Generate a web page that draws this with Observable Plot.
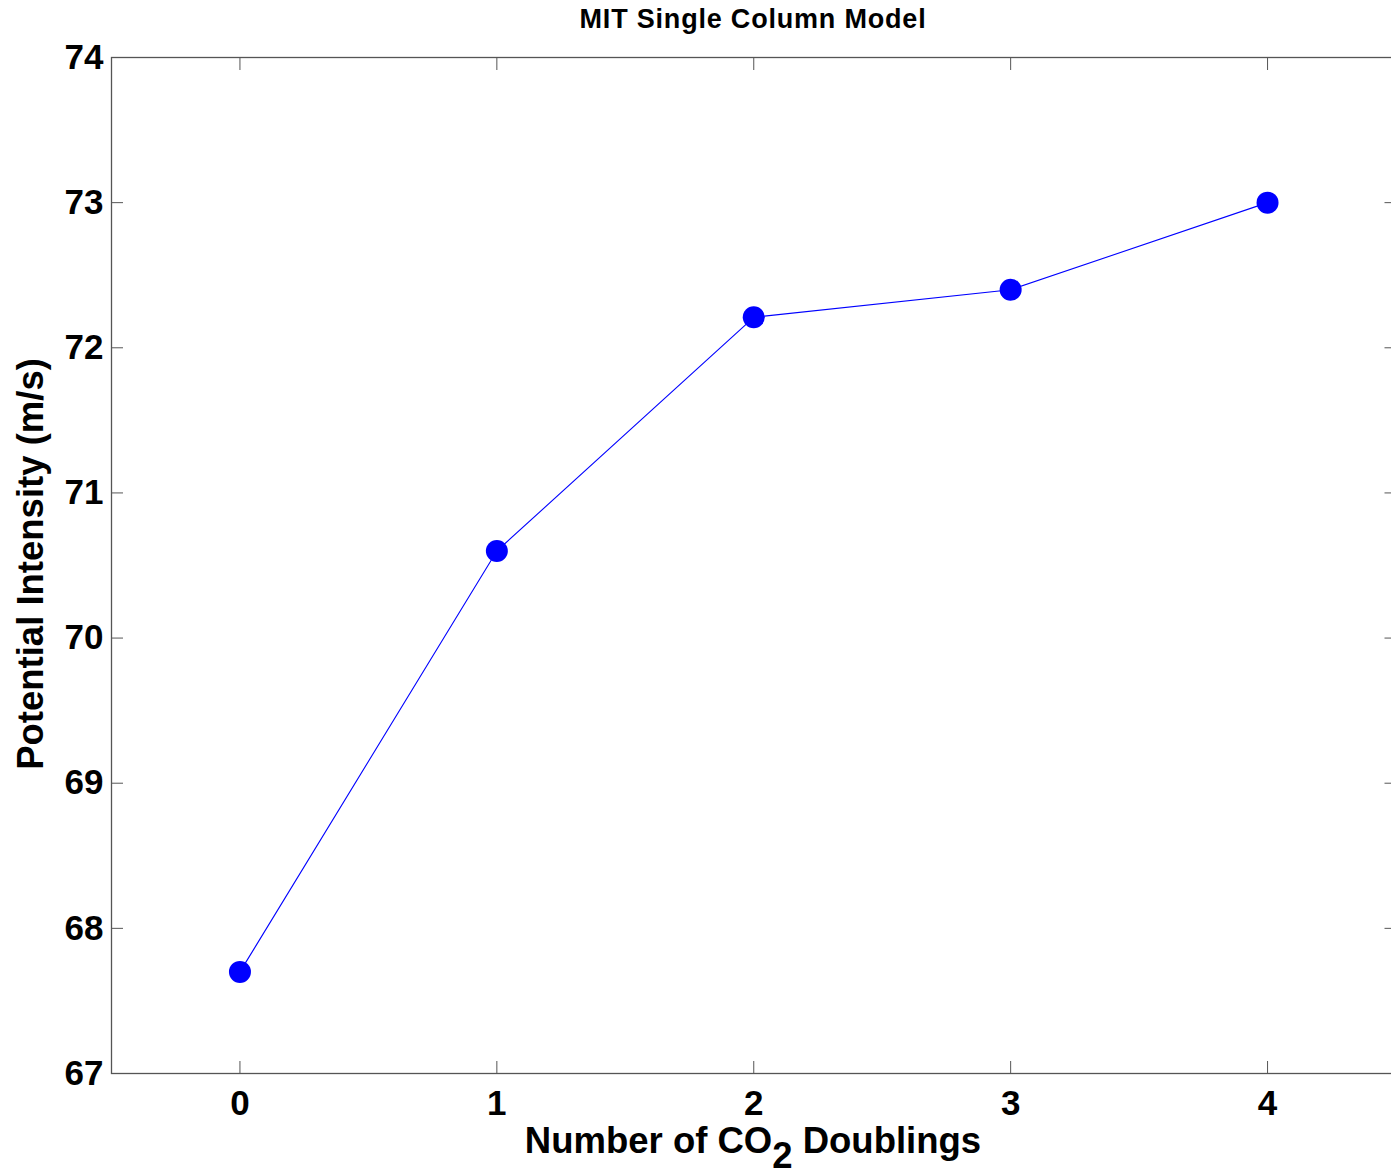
<!DOCTYPE html>
<html>
<head>
<meta charset="utf-8">
<script src="https://cdn.jsdelivr.net/npm/d3@7"></script>
<script src="https://cdn.jsdelivr.net/npm/@observablehq/plot@0.6"></script>
<style>
  html, body { margin: 0; padding: 0; background: #fff; overflow: hidden; }
  #chart svg { display: block; max-width: none !important; }
</style>
</head>
<body>
<div id="chart"></div>
<script>
const doublings = [0, 1, 2, 3, 4];
const intensity = [67.7, 70.6, 72.21, 72.4, 73.0];
const xTicks = [0, 1, 2, 3, 4];
const yTicks = [67, 68, 69, 70, 71, 72, 73, 74];
const titleText = "MIT Single Column Model";
const yLabelText = "Potential Intensity (m/s)";
const xLabelParts = ["Number of CO", "2", " Doublings"];

const data = doublings.map((d, i) => ({x: d, y: intensity[i]}));
const axisColor = "#555";
const font = "'Liberation Sans', Arial, Helvetica, sans-serif";
const fmt = d3.format("d");

const chart = Plot.plot({
  width: 1396,
  height: 1176,
  marginLeft: 111,
  marginRight: 0.5,
  marginTop: 57,
  marginBottom: 103,
  style: {fontFamily: font, background: "#fff", color: "#000", maxWidth: "none"},
  x: {domain: [-0.5, 4.5]},
  y: {domain: [67, 74]},
  marks: [
    Plot.frame({stroke: axisColor, strokeWidth: 1.3}),
    Plot.axisX({ticks: xTicks, anchor: "bottom", tickSize: -12, tickFormat: () => "", label: null, stroke: axisColor}),
    Plot.axisX({ticks: xTicks, anchor: "top", tickSize: -12, tickFormat: () => "", label: null, stroke: axisColor}),
    Plot.axisY({ticks: yTicks, anchor: "left", tickSize: -12, tickFormat: () => "", label: null, stroke: axisColor}),
    Plot.axisY({ticks: yTicks, anchor: "right", tickSize: -12, tickFormat: () => "", label: null, stroke: axisColor}),
    Plot.axisX({ticks: xTicks, anchor: "bottom", tickSize: 0, tickPadding: 17, tickFormat: fmt, label: null, fontSize: 35, fontWeight: "bold", fill: "#000"}),
    Plot.axisY({ticks: yTicks, anchor: "left", tickSize: 0, tickPadding: 8, tickFormat: fmt, label: null, fontSize: 35, fontWeight: "bold", fill: "#000"}),
    Plot.line(data, {x: "x", y: "y", stroke: "#0000ff", strokeWidth: 1.1}),
    Plot.dot(data, {x: "x", y: "y", r: 11, fill: "#0000ff", stroke: "none"})
  ]
});

const svg = d3.select(chart);
svg.append("text")
  .attr("x", 753).attr("y", 28)
  .attr("text-anchor", "middle")
  .attr("font-family", font).attr("font-weight", "bold").attr("font-size", 27)
  .attr("letter-spacing", 0.8)
  .attr("fill", "#000")
  .text(titleText);

svg.append("text")
  .attr("transform", "translate(43,564) rotate(-90)")
  .attr("text-anchor", "middle")
  .attr("font-family", font).attr("font-weight", "bold").attr("font-size", 36.5)
  .attr("fill", "#000")
  .text(yLabelText);

const xl = svg.append("text")
  .attr("x", 753).attr("y", 1153)
  .attr("text-anchor", "middle")
  .attr("font-family", font).attr("font-weight", "bold").attr("font-size", 36.5)
  .attr("fill", "#000");
xl.append("tspan").text(xLabelParts[0]);
xl.append("tspan").attr("dy", 15).text(xLabelParts[1]);
xl.append("tspan").attr("dy", -15).text(xLabelParts[2]);

document.getElementById("chart").appendChild(chart);
</script>
</body>
</html>
